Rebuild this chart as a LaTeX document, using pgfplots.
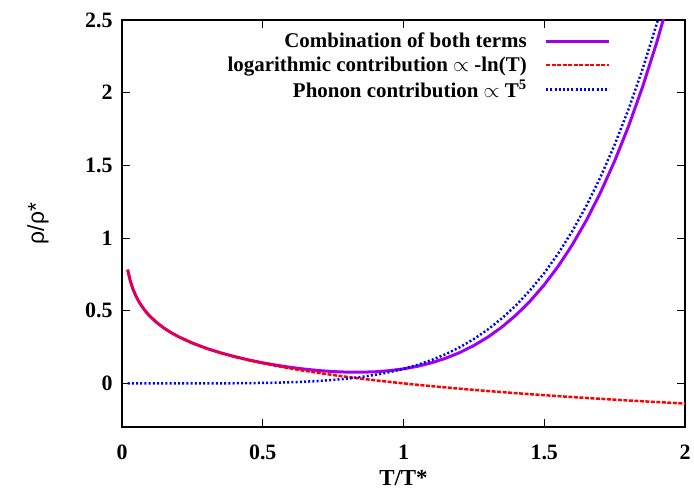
\documentclass[border=0pt]{standalone}
\usepackage{fontspec}
\setmainfont{Liberation Serif}
\newfontfamily\sansf{Liberation Sans}
\usepackage{pgfplots}
\pgfplotsset{compat=1.18}
\definecolor{gpurple}{RGB}{160,0,240}
\definecolor{gred}{RGB}{255,0,0}
\definecolor{gblue}{RGB}{0,0,255}
\pgfplotstableread{
x y
0.02 0.7824
0.03 0.7013
0.04 0.6438
0.05 0.5991
0.06 0.5627
0.07 0.5319
0.08 0.5051
0.09 0.4816
0.10 0.4605
0.125 0.4159
0.15 0.3794
0.175 0.3486
0.20 0.3219
0.25 0.2773
0.30 0.2408
0.35 0.2100
0.40 0.1833
0.45 0.1597
0.50 0.1386
0.55 0.1196
0.60 0.1022
0.65 0.0862
0.70 0.0713
0.75 0.0575
0.80 0.0446
0.85 0.0325
0.90 0.0211
0.95 0.0103
1.00 0.0000
1.05 -0.0098
1.10 -0.0191
1.15 -0.0280
1.20 -0.0365
1.25 -0.0446
1.30 -0.0525
1.35 -0.0600
1.40 -0.0673
1.45 -0.0743
1.50 -0.0811
1.55 -0.0877
1.60 -0.0940
1.65 -0.1002
1.70 -0.1061
1.75 -0.1119
1.80 -0.1176
1.85 -0.1230
1.90 -0.1284
1.95 -0.1336
2.00 -0.1386
}\logdata
\pgfplotstableread{
x y
0.02 0.0000
0.10 0.000001
0.20 0.000032
0.30 0.000243
0.35 0.000525
0.40 0.001024
0.45 0.001845
0.50 0.003125
0.55 0.00503
0.60 0.00778
0.65 0.0116
0.70 0.0168
0.75 0.0237
0.80 0.0328
0.85 0.0444
0.90 0.0590
0.95 0.0774
1.00 0.1000
1.05 0.1276
1.10 0.1611
1.15 0.2011
1.20 0.2488
1.25 0.3052
1.30 0.3713
1.35 0.4484
1.40 0.5378
1.45 0.6410
1.50 0.7594
1.55 0.8947
1.60 1.0486
1.65 1.2230
1.70 1.4199
1.75 1.6413
1.80 1.8896
1.85 2.1670
1.90 2.4761
1.95 2.8195
2.00 3.2000
}\phondata
\pgfplotstableread{
x y
0.02 0.7824
0.03 0.7013
0.04 0.6438
0.05 0.5991
0.06 0.5627
0.07 0.5319
0.08 0.5051
0.09 0.4816
0.10 0.4605
0.125 0.4159
0.15 0.3794
0.175 0.3486
0.20 0.3219
0.25 0.2773
0.30 0.2410
0.35 0.2105
0.40 0.1843
0.45 0.1616
0.50 0.1417
0.55 0.1246
0.60 0.1100
0.65 0.0978
0.70 0.0881
0.75 0.0812
0.80 0.0774
0.85 0.0769
0.90 0.0801
0.95 0.0877
1.00 0.1000
1.05 0.1178
1.10 0.1420
1.15 0.1731
1.20 0.2123
1.25 0.2606
1.30 0.3188
1.35 0.3884
1.40 0.4705
1.45 0.5667
1.50 0.6783
1.55 0.8070
1.60 0.9546
1.65 1.1228
1.70 1.3138
1.75 1.5294
1.80 1.7720
1.85 2.0440
1.90 2.3477
1.95 2.6859
2.00 3.0614
}\combdata
\begin{document}
\begin{tikzpicture}
\useasboundingbox (-122bp,-65bp) rectangle (572bp,427bp);
\begin{axis}[
  at={(0,0)}, anchor=south west,
  scale only axis, width=563bp, height=407bp,
  xmin=0, xmax=2, ymin=-0.3, ymax=2.5,
  xtick={0,0.5,1,1.5,2},
  ytick={0,0.5,1,1.5,2,2.5},
  xticklabels={0,0.5,1,1.5,2},
  yticklabels={0,0.5,1,1.5,2,2.5},
  axis line style={line width=1.2bp},
  tick style={line width=1bp, black},
  major tick length=8bp,
  ticklabel style={font=\fontsize{22}{24}\selectfont\bfseries},
  xticklabel style={anchor=center, at={(0,0)}},
  xticklabel style={yshift=-25bp},
  yticklabel style={xshift=-6bp},
  xlabel={\bfseries T/T*},
  ylabel={\sansf ρ/ρ*},
  label style={font=\fontsize{23}{26}\selectfont},
  xlabel style={at={(rel axis cs:0.5,0)}, anchor=center, yshift=-51bp},
  ylabel style={at={(rel axis cs:0,0.5)}, anchor=center, yshift=84bp},
  legend cell align=right,
  legend plot pos=right,
  legend image code/.code={\path (0bp,0bp); \draw[#1] (16bp,0bp) -- (79bp,0bp);},
  legend style={draw=none, fill=none, at={(rel axis cs:0.872,0.978)}, anchor=north east,
    font=\fontsize{21}{21}\selectfont\bfseries, row sep=3.5bp, inner sep=2bp},
]
\addplot[gpurple, line width=3bp] table {\combdata};
\addlegendentry{Combination of both terms}
\addplot[gred, line width=2.5bp, dash pattern=on 4bp off 1.5bp] table {\logdata};
\addlegendentry{logarithmic contribution $\propto$ -ln(T)}
\addplot[gblue, line width=2.5bp, dash pattern=on 2bp off 2.2bp] table {\phondata};
\addlegendentry{Phonon contribution $\propto$ T\textsuperscript{5}}
\end{axis}
\end{tikzpicture}
\end{document}
